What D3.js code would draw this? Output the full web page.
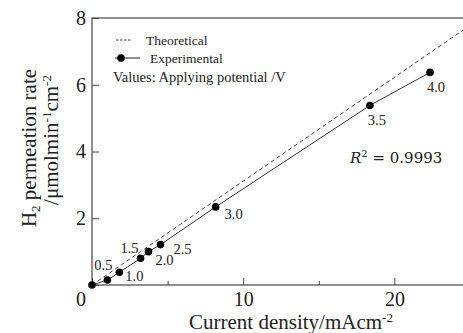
<!DOCTYPE html>
<html>
<head>
<meta charset="utf-8">
<script src="https://cdn.jsdelivr.net/npm/d3@7"></script>
<style>
  body { margin: 0; background: #fff; }
  text { font-family: "Liberation Serif", "Times New Roman", serif; fill: #222; }
</style>
</head>
<body>
<div id="chart"></div>
<script>

// applying potential (V) used as point labels
var potentials = ["", "0.5", "1.0", "1.5", "2.0", "2.5", "3.0", "3.5", "4.0"];
// current density (mA/cm2)
var currentDensity = [0, 1.02, 1.81, 3.21, 3.74, 4.53, 8.18, 18.38, 22.36];
// measured H2 permeation rate (umol/min/cm2)
var permeationRate = [0, 0.15, 0.38, 0.80, 1.00, 1.21, 2.34, 5.38, 6.37];
// theoretical line end points (Faraday law)
var theoryX = [0, 26];
var theoryY = [0, 8.09];

var xTicks = [0, 10, 20];
var xMinorTicks = [5, 15, 25];
var yTicks = [0, 2, 4, 6, 8];

var svgWidth = 463;
var svgHeight = 333;

var margin = { left: 92, top: 18, right: -10, bottom: 48 };
var chartWidth = svgWidth - margin.left - margin.right;
var chartHeight = svgHeight - margin.top - margin.bottom;

var svg = d3.select("#chart").append("svg")
    .attr("width", svgWidth)
    .attr("height", svgHeight);

var chartGroup = svg.append("g")
    .attr("transform", `translate(${margin.left}, ${margin.top})`);

var xScale = d3.scaleLinear().domain([0, 25.2]).range([0, chartWidth]);
var yScale = d3.scaleLinear().domain([0, 8]).range([chartHeight, 0]);

// frame
chartGroup.append("rect")
    .attr("x", 0).attr("y", 0)
    .attr("width", chartWidth).attr("height", chartHeight)
    .attr("fill", "none")
    .attr("stroke", "#444")
    .attr("stroke-width", 1.2);

// x axis, ticks inside
var xAxis = d3.axisBottom(xScale)
    .tickValues(xTicks)
    .tickSize(-7)
    .tickFormat(d => d === 0 ? "" : d);

var gx = chartGroup.append("g")
    .attr("transform", `translate(0, ${chartHeight})`)
    .call(xAxis);
gx.select(".domain").remove();
gx.selectAll("line").attr("stroke", "#444");
gx.selectAll("text").style("font-size", "20px").attr("dy", "0.35em").attr("y", 14);

var gxMinor = chartGroup.append("g")
    .attr("transform", `translate(0, ${chartHeight})`)
    .call(d3.axisBottom(xScale).tickValues(xMinorTicks).tickSize(-4).tickFormat(""));
gxMinor.select(".domain").remove();
gxMinor.selectAll("line").attr("stroke", "#444");

// y axis, ticks inside
var yAxis = d3.axisLeft(yScale)
    .tickValues(yTicks)
    .tickSize(-7)
    .tickFormat(d => d === 0 ? "" : d);

var gy = chartGroup.append("g").call(yAxis);
gy.select(".domain").remove();
gy.selectAll("line").attr("stroke", "#444");
gy.selectAll("text").style("font-size", "20px").attr("x", -6);

// shared origin label
chartGroup.append("text")
    .attr("x", -11)
    .attr("y", chartHeight + 14)
    .attr("dy", "0.35em")
    .attr("text-anchor", "middle")
    .style("font-size", "20px")
    .text("0");

// theoretical dashed line
chartGroup.append("path")
    .datum(d3.zip(theoryX, theoryY))
    .attr("fill", "none")
    .attr("stroke", "#444")
    .attr("stroke-width", 1)
    .attr("stroke-dasharray", "4,3")
    .attr("d", d3.line().x(d => xScale(d[0])).y(d => yScale(d[1])));

var points = d3.zip(currentDensity, permeationRate, potentials);

// experimental line
chartGroup.append("path")
    .datum(points)
    .attr("fill", "none")
    .attr("stroke", "#333")
    .attr("stroke-width", 1)
    .attr("d", d3.line().x(d => xScale(d[0])).y(d => yScale(d[1])));

chartGroup.selectAll("circle.pt").data(points)
    .enter()
    .append("circle")
    .attr("class", "pt")
    .attr("cx", d => xScale(d[0]))
    .attr("cy", d => yScale(d[1]))
    .attr("r", 3.8)
    .attr("fill", "#000");

// label offsets for each point
var labelDx = [0, -4, 15, -11, 16, 22, 18, 7, 6];
var labelDy = [0, -15, 4, -10, 8, 4, 7, 14, 15];

chartGroup.selectAll("text.lbl").data(points)
    .enter()
    .append("text")
    .attr("class", "lbl")
    .attr("x", (d, i) => xScale(d[0]) + labelDx[i])
    .attr("y", (d, i) => yScale(d[1]) + labelDy[i])
    .attr("text-anchor", "middle")
    .attr("dy", "0.35em")
    .style("font-size", "14.5px")
    .text(d => d[2]);

// legend
var legend = svg.append("g");
legend.append("line")
    .attr("x1", 116).attr("x2", 131).attr("y1", 40).attr("y2", 40)
    .attr("stroke", "#444").attr("stroke-dasharray", "2.5,1.5");
legend.append("text")
    .attr("x", 146).attr("y", 40).attr("dy", "0.35em")
    .style("font-size", "13.5px")
    .text("Theoretical");
legend.append("line")
    .attr("x1", 115).attr("x2", 140).attr("y1", 58).attr("y2", 58)
    .attr("stroke", "#222");
legend.append("circle")
    .attr("cx", 121).attr("cy", 58).attr("r", 3.8).attr("fill", "#000");
legend.append("text")
    .attr("x", 150).attr("y", 58).attr("dy", "0.35em")
    .style("font-size", "13.5px")
    .text("Experimental");
legend.append("text")
    .attr("x", 113).attr("y", 77).attr("dy", "0.35em")
    .style("font-size", "14.5px")
    .text("Values: Applying potential /V");

// R squared
var r2 = svg.append("text")
    .attr("x", 350).attr("y", 163)
    .style("font-size", "15px")
    .style("font-family", "'DejaVu Serif', serif");
r2.append("tspan").style("font-style", "italic").text("R");
r2.append("tspan").attr("dy", -6).style("font-size", "10px").text("2");
r2.append("tspan").attr("dy", 6).text(" = 0.9993");

// x axis title
var xTitle = svg.append("text")
    .attr("x", 291).attr("y", 329)
    .attr("text-anchor", "middle")
    .style("font-size", "21px");
xTitle.append("tspan").text("Current density/mAcm");
xTitle.append("tspan").attr("dy", -7).style("font-size", "13px").text("-2");

// y axis titles
var yTitle1 = svg.append("text")
    .attr("transform", "translate(36, 148) rotate(-90)")
    .attr("text-anchor", "middle")
    .style("font-size", "21px");
yTitle1.append("tspan").text("H");
yTitle1.append("tspan").attr("dy", 4).style("font-size", "13px").text("2");
yTitle1.append("tspan").attr("dy", -4).text(" permeation rate");

var yTitle2 = svg.append("text")
    .attr("transform", "translate(58, 140) rotate(-90)")
    .attr("text-anchor", "middle")
    .style("font-size", "21px");
yTitle2.append("tspan").text("/μmolmin");
yTitle2.append("tspan").attr("dy", -7).style("font-size", "13px").text("-1");
yTitle2.append("tspan").attr("dy", 7).text("cm");
yTitle2.append("tspan").attr("dy", -7).style("font-size", "13px").text("-2");

</script>
</body>
</html>
